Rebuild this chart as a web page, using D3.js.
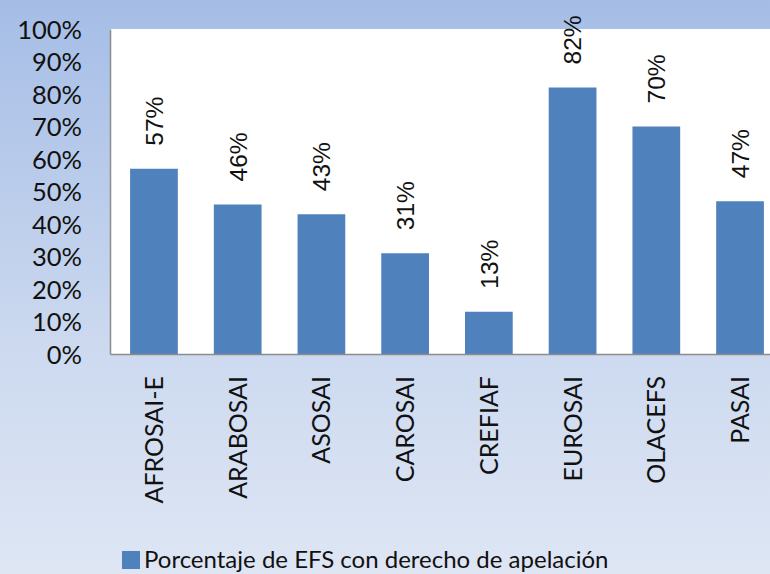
<!DOCTYPE html>
<html>
<head>
<meta charset="utf-8">
<script src="https://cdn.jsdelivr.net/npm/d3@7"></script>
<style>
  html, body { margin: 0; padding: 0; overflow: hidden; }
  svg { display: block; }
</style>
</head>
<body>
<div id="chart"></div>
<script>
// Datos del gráfico
const categories = ['AFROSAI-E', 'ARABOSAI', 'ASOSAI', 'CAROSAI', 'CREFIAF', 'EUROSAI', 'OLACEFS', 'PASAI'];
const values = [57, 46, 43, 31, 13, 82, 70, 47];
const yTicks = [0, 10, 20, 30, 40, 50, 60, 70, 80, 90, 100];
const seriesName = 'Porcentaje de EFS con derecho de apelación';

const width = 770;
const height = 574;
const barColor = '#4F81BD';

// Área del gráfico (se corta por la derecha, como en la imagen)
const plot = { left: 110, top: 29, right: 784, bottom: 354 };

const svg = d3.select('#chart')
  .append('svg')
  .attr('width', width)
  .attr('height', height);

// Fondo degradado
const grad = svg.append('defs')
  .append('linearGradient')
  .attr('id', 'bg')
  .attr('x1', 0).attr('y1', 0)
  .attr('x2', 0).attr('y2', 1);
grad.append('stop').attr('offset', '0%').attr('stop-color', '#A5BDE6');
grad.append('stop').attr('offset', '60%').attr('stop-color', '#CCD9EF');
grad.append('stop').attr('offset', '100%').attr('stop-color', '#DEE6F4');

svg.append('rect')
  .attr('width', width)
  .attr('height', height)
  .attr('fill', 'url(#bg)');

// Escalas
const x = d3.scaleBand()
  .domain(categories)
  .range([plot.left, plot.right])
  .paddingInner(0.43)
  .paddingOuter(0.24);

const y = d3.scaleLinear()
  .domain([0, 100])
  .range([plot.bottom, plot.top]);

// Fondo blanco del área de trazado
svg.append('rect')
  .attr('x', plot.left)
  .attr('y', plot.top)
  .attr('width', plot.right - plot.left)
  .attr('height', plot.bottom - plot.top)
  .attr('fill', '#ffffff');

// Barras
svg.append('g')
  .selectAll('rect')
  .data(values)
  .enter()
  .append('rect')
  .attr('x', (d, i) => x(categories[i]))
  .attr('y', d => y(d))
  .attr('width', x.bandwidth())
  .attr('height', d => y(0) - y(d))
  .attr('fill', barColor);

// Eje Y
const yAxis = svg.append('g')
  .attr('transform', `translate(${plot.left},0)`)
  .call(d3.axisLeft(y).tickValues(yTicks).tickFormat(d => d + '%').tickSize(0).tickPadding(28));
yAxis.select('.domain').attr('stroke', '#8C8C8C').attr('stroke-width', 1.5);
yAxis.selectAll('text')
  .attr('font-family', 'Lato, "Open Sans", sans-serif')
  .attr('font-size', 25.5)
  .attr('fill', '#111')
  .attr('dy', '0.36em');

// Eje X
const xAxis = svg.append('g')
  .attr('transform', `translate(0,${plot.bottom})`)
  .call(d3.axisBottom(x).tickSize(0).tickSizeOuter(0));
xAxis.select('.domain').attr('stroke', '#8C8C8C').attr('stroke-width', 1.5);
xAxis.selectAll('text')
  .attr('font-family', 'Lato, "Open Sans", sans-serif')
  .attr('font-size', 25)
  .attr('fill', '#111')
  .attr('text-anchor', 'end')
  .attr('transform', 'rotate(-90)')
  .attr('x', -22)
  .attr('y', 0)
  .attr('dy', '0.36em');

// Etiquetas de datos
svg.append('g')
  .selectAll('text')
  .data(values)
  .enter()
  .append('text')
  .attr('transform', (d, i) => {
    const cx = x(categories[i]) + x.bandwidth() / 2;
    return `translate(${cx},${y(d) - 23}) rotate(-90)`;
  })
  .attr('dy', '0.36em')
  .attr('text-anchor', 'start')
  .attr('font-family', '"Liberation Sans", Arial, sans-serif')
  .attr('font-size', 24.5)
  .attr('fill', '#111')
  .text(d => d + '%');

// Leyenda
const legend = svg.append('g');
legend.append('rect')
  .attr('x', 122)
  .attr('y', 551)
  .attr('width', 18)
  .attr('height', 18)
  .attr('fill', barColor);
legend.append('text')
  .attr('x', 144)
  .attr('y', 568)
  .attr('font-family', 'Lato, "Open Sans", sans-serif')
  .attr('font-size', 24)
  .attr('fill', '#111')
  .text(seriesName);
</script>
</body>
</html>
